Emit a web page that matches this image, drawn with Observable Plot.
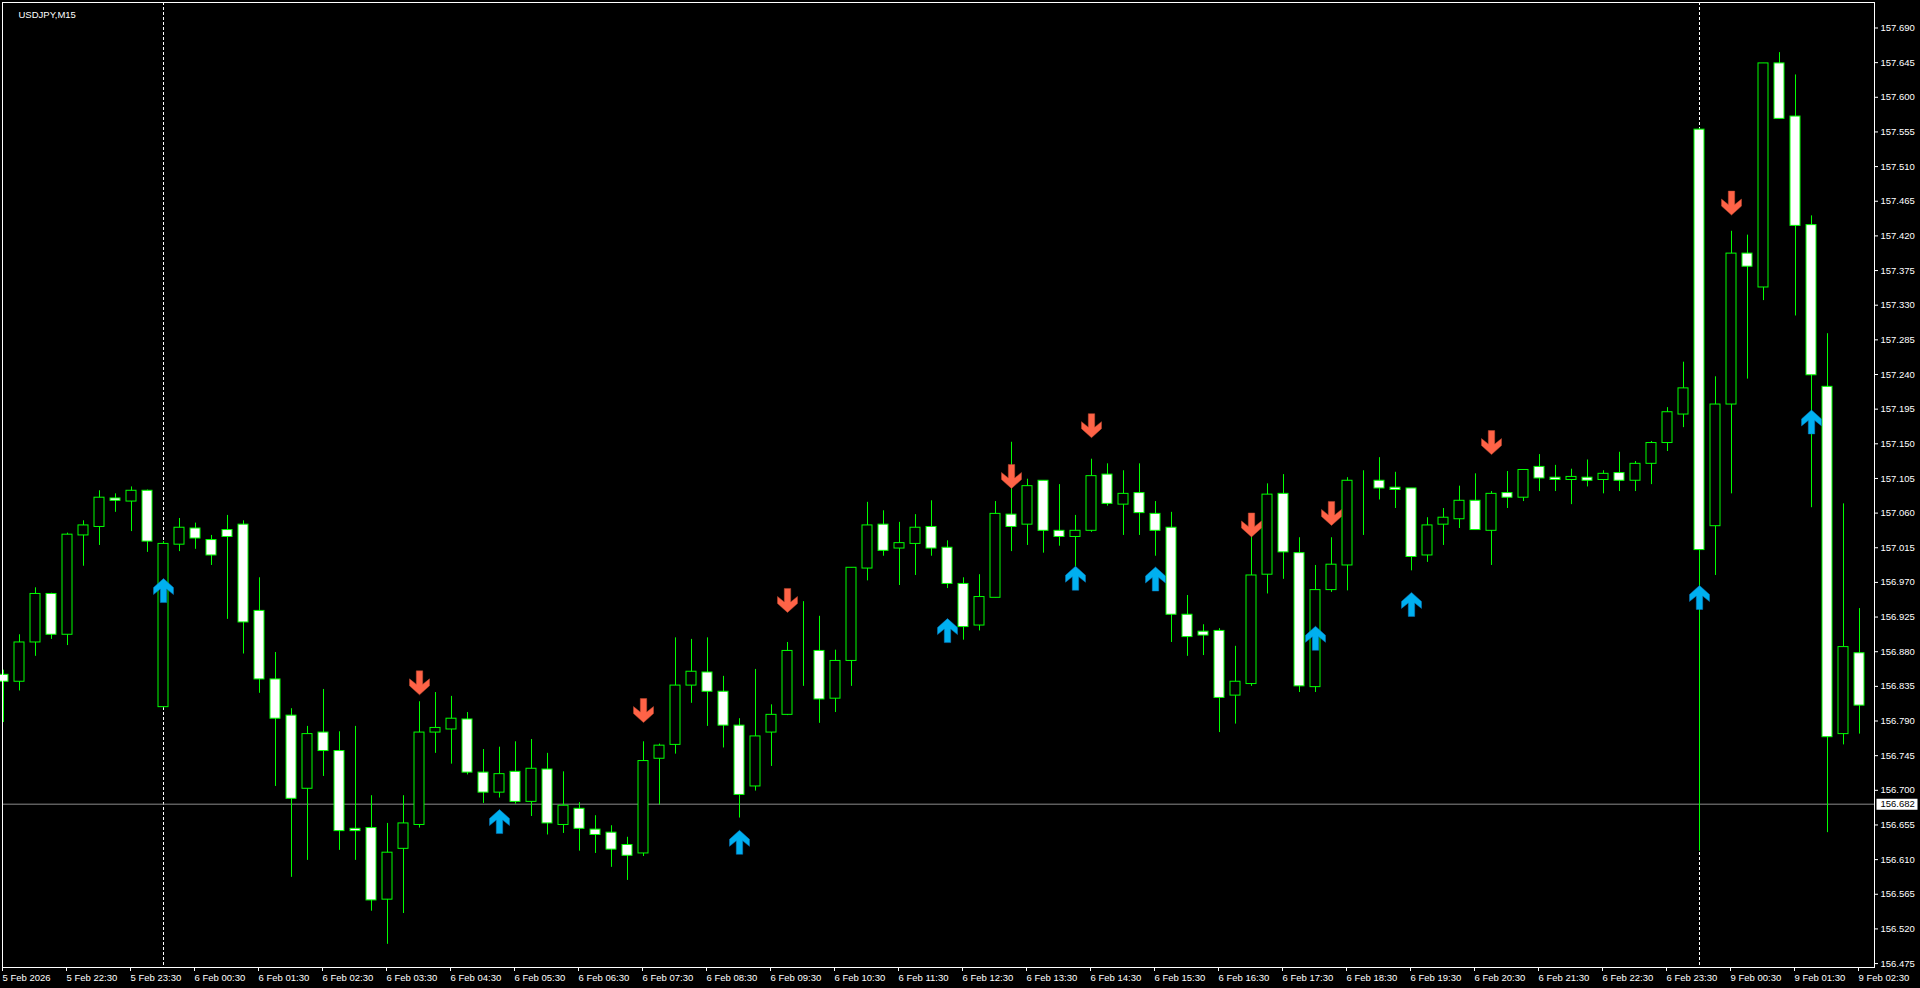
<!DOCTYPE html>
<html>
<head>
<meta charset="utf-8">
<script src="https://cdn.jsdelivr.net/npm/d3@7"></script>
<script src="https://cdn.jsdelivr.net/npm/@observablehq/plot@0.6"></script>
<style>
html, body { margin: 0; padding: 0; background: #000; overflow: hidden; }
#chart svg { display: block; overflow: visible; }
</style>
</head>
<body>
<div id="chart"></div>
<script>
// ---- data (USDJPY, M15) ----
const symbolName = "USDJPY,M15";

const openP = [156.850,156.841,156.892,156.955,156.902,157.031,157.042,157.079,157.075,157.089,
156.808,157.019,157.040,157.025,157.038,157.045,156.933,156.844,156.797,156.702,
156.775,156.751,156.650,156.651,156.558,156.624,156.655,156.775,156.779,156.792,
156.723,156.697,156.724,156.685,156.727,156.655,156.676,156.649,156.645,156.629,
156.618,156.741,156.759,156.836,156.853,156.828,156.784,156.705,156.775,156.798,
156.883,156.881,156.819,156.868,156.988,157.045,157.014,157.020,157.042,157.015,
156.968,156.914,156.950,157.058,157.045,157.102,157.037,157.029,157.037,157.110,
157.071,157.086,157.059,157.041,156.928,156.906,156.907,156.823,156.838,156.980,
157.085,157.008,156.834,156.960,156.992,157.101,157.102,157.093,157.092,157.005,
157.045,157.052,157.076,157.037,157.086,157.080,157.120,157.106,157.103,157.106,
157.103,157.112,157.102,157.124,157.151,157.188,157.558,157.043,157.201,157.397,
157.353,157.644,157.575,157.434,157.224,156.773,156.878];

const highP = [156.856,156.902,156.963,156.956,157.034,157.050,157.089,157.085,157.094,157.090,
157.023,157.053,157.047,157.031,157.057,157.050,156.976,156.879,156.806,156.783,
156.831,156.776,156.783,156.693,156.657,156.693,156.815,156.827,156.822,156.801,
156.753,156.756,156.763,156.766,156.748,156.724,156.684,156.667,156.654,156.639,
156.763,156.760,156.898,156.896,156.898,156.848,156.793,156.857,156.811,156.892,
156.945,156.926,156.882,156.989,157.074,157.063,157.048,157.058,157.076,157.024,
156.976,156.980,157.075,157.152,157.104,157.102,157.097,157.057,157.130,157.124,
157.115,157.124,157.075,157.061,156.953,156.915,156.910,156.887,157.032,157.098,
157.110,157.028,156.992,157.028,157.106,157.115,157.132,157.113,157.092,157.054,
157.066,157.095,157.111,157.088,157.114,157.116,157.136,157.122,157.117,157.129,
157.115,157.139,157.127,157.153,157.197,157.256,157.559,157.237,157.426,157.421,
157.644,157.658,157.629,157.446,157.293,157.072,156.936];

const lowP = [156.788,156.829,156.874,156.896,156.888,156.991,157.018,157.061,157.036,157.009,
156.807,157.010,157.013,156.992,156.922,156.877,156.826,156.705,156.587,156.609,
156.718,156.622,156.609,156.543,156.500,156.540,156.651,156.748,156.734,156.720,
156.683,156.690,156.682,156.666,156.642,156.644,156.621,156.618,156.600,156.583,
156.614,156.681,156.747,156.813,156.783,156.755,156.664,156.699,156.731,156.797,
156.835,156.787,156.801,156.835,156.972,157.004,156.966,156.979,157.004,156.962,
156.895,156.907,156.950,157.010,157.018,157.008,157.017,156.990,157.035,157.069,
157.031,157.031,157.004,156.892,156.874,156.875,156.775,156.786,156.835,156.955,
156.974,156.827,156.827,156.957,156.959,157.031,157.077,157.066,156.985,156.996,
157.018,157.040,157.038,156.992,157.066,157.075,157.088,157.088,157.071,157.094,
157.085,157.088,157.088,157.097,157.140,157.171,156.621,156.979,157.085,157.234,
157.336,157.572,157.316,157.067,156.645,156.759,156.773];

const closeP = [156.841,156.892,156.955,156.902,157.032,157.044,157.080,157.076,157.089,157.023,
157.020,157.041,157.027,157.005,157.029,156.918,156.844,156.793,156.689,156.773,
156.751,156.647,156.647,156.557,156.619,156.657,156.775,156.781,156.793,156.723,
156.697,156.721,156.685,156.728,156.657,156.680,156.650,156.642,156.623,156.615,
156.738,156.758,156.836,156.854,156.828,156.784,156.694,156.770,156.798,156.881,
156.883,156.818,156.868,156.989,157.044,157.011,157.021,157.041,157.014,156.968,
156.912,156.951,157.059,157.042,157.095,157.037,157.029,157.037,157.108,157.072,
157.085,157.060,157.037,156.928,156.899,156.901,156.820,156.841,156.979,157.084,
157.009,156.835,156.960,156.993,157.102,157.101,157.092,157.090,157.003,157.044,
157.054,157.076,157.038,157.085,157.080,157.116,157.105,157.103,157.107,157.102,
157.111,157.102,157.124,157.151,157.191,157.222,157.012,157.201,157.397,157.380,
157.644,157.572,157.433,157.239,156.769,156.886,156.810];

// time axis: one label per hour (every 4th 15-minute bar)
const timeTickBars = [0,4,8,12,16,20,24,28,32,36,40,44,48,52,56,60,64,68,72,76,80,84,88,92,96,100,104,108,112,116];
const timeTickLabels = ["5 Feb 2026","5 Feb 22:30","5 Feb 23:30",
"6 Feb 00:30","6 Feb 01:30","6 Feb 02:30","6 Feb 03:30","6 Feb 04:30","6 Feb 05:30",
"6 Feb 06:30","6 Feb 07:30","6 Feb 08:30","6 Feb 09:30","6 Feb 10:30","6 Feb 11:30",
"6 Feb 12:30","6 Feb 13:30","6 Feb 14:30","6 Feb 15:30","6 Feb 16:30","6 Feb 17:30",
"6 Feb 18:30","6 Feb 19:30","6 Feb 20:30","6 Feb 21:30","6 Feb 22:30","6 Feb 23:30",
"9 Feb 00:30","9 Feb 01:30","9 Feb 02:30"];

const priceTicks = [156.475,156.520,156.565,156.610,156.655,156.700,156.745,156.790,156.835,
156.880,156.925,156.970,157.015,157.060,157.105,157.150,157.195,157.240,157.285,157.330,
157.375,157.420,157.465,157.510,157.555,157.600,157.645,157.690];

const daySeparatorBars = [10, 106];   // 6 Feb 00:00 and 9 Feb 00:00
const bidPrice = 156.682;

const buyArrowBars   = [10, 31, 46, 59, 67, 72, 82, 88, 106, 113];
const buyArrowPrices = [156.975,156.675,156.648,156.923,156.991,156.990,156.913,156.957,156.966,157.194];
const sellArrowBars   = [26, 40, 49, 63, 68, 78, 83, 93, 108];
const sellArrowPrices = [156.824,156.788,156.931,157.092,157.158,157.029,157.044,157.136,157.447];

// ---- tables built from the arrays ----
const candles = openP.map((o, i) => ({i, open: o, high: highP[i], low: lowP[i], close: closeP[i]}));
const bullCandles = candles.filter(d => d.close >= d.open);
const bearCandles = candles.filter(d => d.close < d.open);
const buyArrows = buyArrowBars.map((b, k) => ({i: b, price: buyArrowPrices[k]}));
const sellArrows = sellArrowBars.map((b, k) => ({i: b, price: sellArrowPrices[k]}));
const labelByBar = new Map(timeTickBars.map((b, k) => [b, timeTickLabels[k]]));
const fmt3 = d3.format(".3f");

// ---- glyphs (tip of the arrow at the anchor point) ----
const arrowPts = [[0,0],[10,9],[10,16],[3.2,10.5],[3.2,24],[-3.2,24],[-3.2,10.5],[-10,16],[-10,9]];
const upArrow = {draw(c) {
  arrowPts.forEach(([px, py], k) => k ? c.lineTo(px, py) : c.moveTo(px, py));
  c.closePath();
}};
const downArrow = {draw(c) {
  arrowPts.forEach(([px, py], k) => k ? c.lineTo(px, -py) : c.moveTo(px, -py));
  c.closePath();
}};
const priceBox = {draw(c) { c.rect(-20.5, -5.5, 41, 11); }};

const LIME = "#00ff00";

const chart = Plot.plot({
  width: 1920,
  height: 988,
  marginLeft: 2,
  marginRight: 46,
  marginTop: 2,
  marginBottom: 21,
  style: {background: "#000", color: "#fff", fontFamily: "'Liberation Sans', Arial, sans-serif", fontSize: "9.5px", overflow: "visible"},
  x: {domain: [-0.0625, 116.9375]},
  y: {domain: [156.4699, 157.7231]},
  marks: [
    Plot.ruleX(daySeparatorBars, {stroke: "#fff", strokeDasharray: "3,2"}),
    Plot.ruleY([bidPrice], {stroke: "#8c8c8c"}),
    Plot.ruleX(candles, {x: "i", y1: "low", y2: "high", stroke: LIME}),
    Plot.rect(bullCandles, {x1: d => d.i - 0.3125, x2: d => d.i + 0.3125, y1: "open", y2: "close", fill: "#000", stroke: LIME}),
    Plot.rect(bearCandles, {x1: d => d.i - 0.3125, x2: d => d.i + 0.3125, y1: "open", y2: "close", fill: "#fff", stroke: LIME}),
    Plot.dot(buyArrows, {x: "i", y: "price", symbol: upArrow, fill: "#00b0f0", stroke: "#0a78c0", strokeWidth: 0.5}),
    Plot.dot(sellArrows, {x: "i", y: "price", symbol: downArrow, fill: "#ff6347", stroke: "#c04a30", strokeWidth: 0.5}),
    Plot.frame({stroke: "#fff"}),
    Plot.axisY({anchor: "right", ticks: priceTicks, tickFormat: fmt3, tickSize: 3, tickPadding: 3, label: null}),
    Plot.axisX({anchor: "bottom", ticks: timeTickBars, tickFormat: d => labelByBar.get(d), tickSize: 4, tickPadding: 3, textAnchor: "start", dx: -1, label: null}),
    Plot.dot([bidPrice], {y: d => d, frameAnchor: "right", dx: 22.5, symbol: priceBox, fill: "#fff", stroke: "none"}),
    Plot.text([bidPrice], {y: d => d, frameAnchor: "right", dx: 6, textAnchor: "start", fill: "#000", text: d => fmt3(d)}),
    Plot.text([symbolName], {frameAnchor: "top-left", dx: 16, dy: 9, textAnchor: "start", fill: "#fff", text: d => d})
  ]
});
document.getElementById("chart").appendChild(chart);
</script>
</body>
</html>
